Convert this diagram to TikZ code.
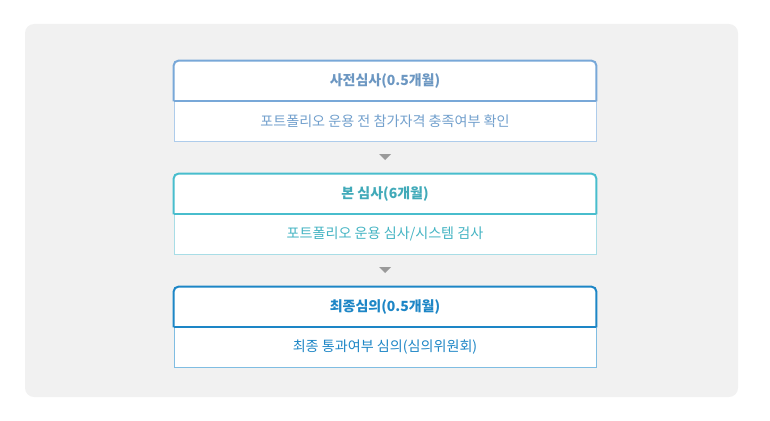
\documentclass[tikz,border=0pt]{standalone}
\usepackage{fontspec}
\setmainfont{Noto Sans CJK KR}
\usetikzlibrary{positioning}

\definecolor{panelgray}{HTML}{F1F1F1}
\definecolor{tipgray}{HTML}{9A9A9A}
\definecolor{stepone}{HTML}{78A8D8}
\definecolor{steponeline}{HTML}{AECCEB}
\definecolor{steptwo}{HTML}{48BDCD}
\definecolor{steptwoline}{HTML}{A8DDE6}
\definecolor{stepthree}{HTML}{1D86C6}
\definecolor{stepthreeline}{HTML}{80BDE2}

\tikzset{
  headbox/.style={minimum width=422pt, minimum height=40pt, inner sep=0pt, fill=white,
    font=\fontsize{14}{16}\selectfont\bfseries},
  bodybox/.style={minimum width=422pt, minimum height=40pt, inner sep=0pt, fill=white,
    draw, line width=1pt, font=\fontsize{14.1}{16}\selectfont},
  headline/.style={line width=2pt, rounded corners=5pt}
}

\begin{document}
\begin{tikzpicture}[x=1pt, y=-1pt, thick]
        \useasboundingbox (0,0) rectangle (770,420);
        % Grey panel behind the steps
        \fill[panelgray, rounded corners=9pt] (25,24) rectangle (738,397);

        % Step 1
        \node[bodybox, draw=steponeline, text=stepone!95!black] (body_one) at (385,121) {포트폴리오 운용 전 참가자격 충족여부 확인};
        \node[headbox, text=stepone!90!black] (head_one) at (385,81) {사전심사(0.5개월)};
        \draw[stepone, headline] (head_one.south west) -- (head_one.north west) -- (head_one.north east) -- (head_one.south east);
        \draw[stepone, line width=2pt] (head_one.south west) -- (head_one.south east);

        % Step 2
        \node[bodybox, draw=steptwoline, text=steptwo!95!black] (body_two) at (385,234) {포트폴리오 운용 심사/시스템 검사};
        \node[headbox, text=steptwo!90!black] (head_two) at (385,194) {본 심사(6개월)};
        \draw[steptwo, headline] (head_two.south west) -- (head_two.north west) -- (head_two.north east) -- (head_two.south east);
        \draw[steptwo, line width=2pt] (head_two.south west) -- (head_two.south east);

        % Step 3
        \node[bodybox, draw=stepthreeline, text=stepthree] (body_three) at (385,347) {최종 통과여부 심의(심의위원회)};
        \node[headbox, text=stepthree] (head_three) at (385,307) {최종심의(0.5개월)};
        \draw[stepthree, headline] (head_three.south west) -- (head_three.north west) -- (head_three.north east) -- (head_three.south east);
        \draw[stepthree, line width=2pt] (head_three.south west) -- (head_three.south east);

        % Small down markers between steps
        \coordinate (tip_one) at (385,157);
        \coordinate (tip_two) at (385,270);
        \fill[tipgray] (tip_one) ++(-6,-3) -- ++(12,0) -- ++(-6,6) -- cycle;
        \fill[tipgray] (tip_two) ++(-6,-3) -- ++(12,0) -- ++(-6,6) -- cycle;
\end{tikzpicture}
\end{document}
